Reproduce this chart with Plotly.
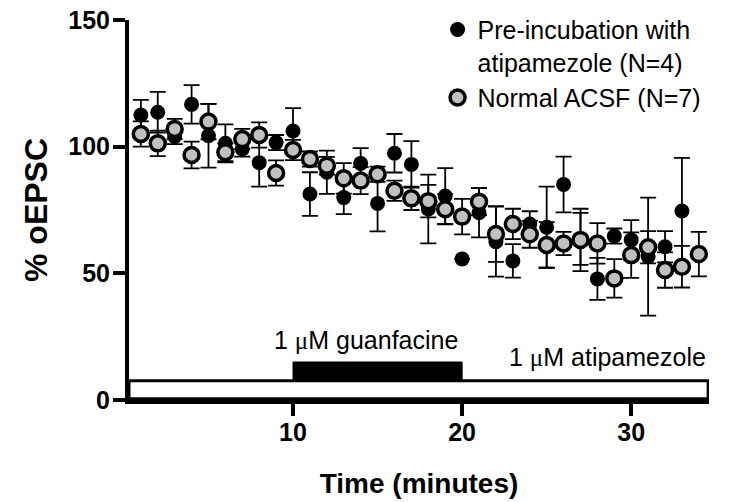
import plotly.graph_objects as go

# Pre-incubation with atipamezole (N=4)
t_pre = list(range(1, 34))
y_pre = [112.5, 113.6, 104.0, 116.7, 104.3, 101.3, 99.1, 93.7, 101.6, 106.2,
         81.3, 89.9, 79.9, 93.4, 77.6, 97.4, 93.0, 75.4, 80.5, 55.7,
         73.9, 62.5, 54.9, 69.5, 68.2, 85.1, 63.6, 47.8, 64.7, 63.2,
         56.6, 60.5, 74.6]
e_pre = [6, 8, 3, 7.6, 12.6, 7.5, 3, 9.5, 3, 9,
         8.6, 8.5, 6.5, 6, 11, 7.6, 9.2, 13.6, 11, 0,
         9.7, 13.8, 6.6, 5, 16, 11, 10.3, 8.3, 3, 7.8,
         23.3, 6.2, 21]

# Normal ACSF (N=7)
t_acsf = list(range(1, 35))
y_acsf = [105.0, 101.3, 107.0, 96.7, 109.9, 97.8, 103.0, 104.6, 89.6, 98.7,
          95.1, 92.5, 87.5, 86.6, 89.1, 82.6, 79.6, 78.5, 75.3, 72.4,
          78.3, 65.5, 69.5, 65.4, 61.2, 61.8, 63.2, 61.8, 48.0, 57.2,
          60.3, 51.3, 52.6, 57.6]
e_acsf = [5, 5, 4, 5.3, 7, 3.5, 4, 5, 5, 4,
          3, 3.5, 6, 5.3, 3, 4, 4.6, 6.4, 6, 7,
          5.3, 11, 6, 5.3, 9, 4.6, 12.3, 8, 7.6, 9,
          6.4, 7, 8.2, 8.8]

x_ticks = [10, 20, 30]
y_ticks = [0, 50, 100, 150]

FONT = "Arial, Liberation Sans, sans-serif"
MU = "<span style='font-family:Liberation Serif, Times New Roman, serif'>μ</span>"

fig = go.Figure()

fig.add_trace(go.Scatter(
    x=t_pre, y=y_pre, mode="markers",
    name="Pre-incubation with<br>atipamezole (N=4)",
    marker=dict(color="black", size=15, line=dict(width=0)),
    error_y=dict(type="data", array=e_pre, visible=True,
                 color="black", thickness=1.8, width=8),
))
fig.add_trace(go.Scatter(
    x=t_acsf, y=y_acsf, mode="markers",
    name="Normal ACSF (N=7)",
    marker=dict(color="#c0c0c0", size=15, line=dict(color="black", width=3.5)),
    error_y=dict(type="data", array=e_acsf, visible=True,
                 color="black", thickness=1.8, width=8),
))

# treatment bars
fig.add_shape(type="rect", xref="x", yref="y", x0=0.3, x1=34.55, y0=0.5, y1=7.6,
              line=dict(color="black", width=3), fillcolor="white", layer="below")
fig.add_shape(type="rect", xref="x", yref="y", x0=10, x1=20, y0=7.6, y1=15,
              line=dict(color="black", width=1), fillcolor="black", layer="below")

fig.add_annotation(x=14.3, y=23.7, xref="x", yref="y", text="1 " + MU + "M guanfacine",
                   showarrow=False, font=dict(family=FONT, size=25, color="black"))
fig.add_annotation(x=34.55, y=17, xref="x", yref="y", xanchor="right",
                   text="1 " + MU + "M atipamezole",
                   showarrow=False, font=dict(family=FONT, size=25, color="black"))

fig.update_layout(
    width=752, height=502,
    margin=dict(l=129, r=43, t=20, b=102, autoexpand=False),
    paper_bgcolor="white", plot_bgcolor="white",
    font=dict(family=FONT, color="black"),
    showlegend=True,
    legend=dict(x=0.532, y=1.035, xanchor="left", yanchor="top",
                font=dict(family=FONT, size=25, color="black"),
                valign="top", bgcolor="rgba(0,0,0,0)", itemsizing="trace",
                tracegroupgap=0),
    xaxis=dict(range=[0.3, 34.6], tickvals=x_ticks, ticks="outside", ticklen=12,
               tickwidth=4, tickcolor="black", showline=True, linewidth=4,
               linecolor="black", showgrid=False, zeroline=False, automargin=False,
               ticklabelstandoff=-5,
               tickfont=dict(family=FONT, size=25, color="black", weight="bold"),
               title=dict(text="<b>Time (minutes)</b>",
                          font=dict(family=FONT, size=28, color="black"),
                          standoff=29)),
    yaxis=dict(range=[0, 150], tickvals=y_ticks, ticks="outside", ticklen=12,
               tickwidth=4, tickcolor="black", showline=True, linewidth=4,
               linecolor="black", showgrid=False, zeroline=False, automargin=False,
               ticklabelstandoff=-2,
               tickfont=dict(family=FONT, size=25, color="black", weight="bold"),
               title=dict(text="<b>% oEPSC</b>",
                          font=dict(family=FONT, size=32, color="black"),
                          standoff=12)),
)

fig.write_html("out.html")
